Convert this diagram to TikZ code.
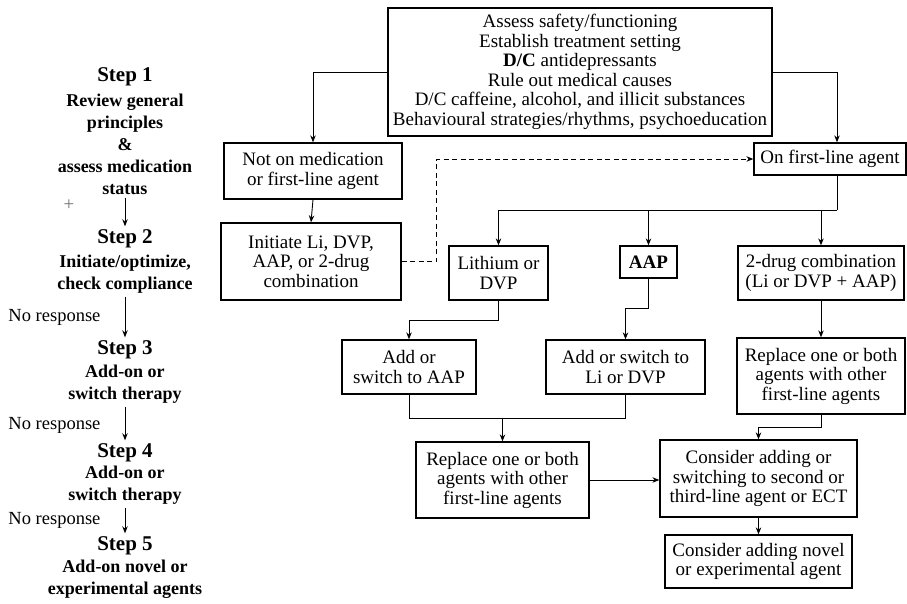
\documentclass[tikz,border=0pt]{standalone}
\usepackage{fontspec}
\setmainfont{Liberation Serif}
\usetikzlibrary{arrows.meta}
\usetikzlibrary{positioning}

\begin{document}
\begin{tikzpicture}[x=1pt,y=-1pt]
      \tikzset{
        >={Stealth[length=7pt,width=5.5pt]},
        box/.style={draw, line width=1.3pt, align=center, inner sep=2pt,
          font=\fontsize{19}{19.5}\selectfont},
        link/.style={->, line width=0.9pt},
        steptitle/.style={font=\bfseries\fontsize{21}{24}\selectfont},
        stepdesc/.style={align=center, font=\bfseries\fontsize{18}{22}\selectfont},
        noresp/.style={anchor=east, font=\fontsize{18.5}{20}\selectfont},
      }
      \useasboundingbox (0,0) rectangle (907,603);

      % step column
      \node[steptitle] (s1) at (125,77) {Step 1};
      \node[stepdesc] (d1) at (125,144) {Review general\\principles\\\&\\assess medication\\status};
      \node[steptitle] (s2) at (125,239) {Step 2};
      \node[stepdesc] (d2) at (125,274) {Initiate/optimize,\\check compliance};
      \node[steptitle] (s3) at (125,350) {Step 3};
      \node[stepdesc] (d3) at (125,384) {Add-on or\\switch therapy};
      \node[steptitle] (s4) at (125,453) {Step 4};
      \node[stepdesc] (d4) at (125,485.5) {Add-on or\\switch therapy};
      \node[steptitle] (s5) at (125,546) {Step 5};
      \node[stepdesc] (d5) at (125,579) {Add-on novel or\\experimental agents};

      \node[font=\fontsize{19}{19}\selectfont, text=black!55] (plus) at (69,205) {+};
      \node[noresp] (nr2) at (104,317) {No response};
      \node[noresp] (nr3) at (104,425) {No response};
      \node[noresp] (nr4) at (104,520) {No response};

      \draw[link] (d1.south) -- (s2.north);
      \draw[link] (d2.south) -- (s3.north);
      \draw[link] (d3.south) -- (s4.north);
      \draw[link] (d4.south) -- (s5.north);

      % flowchart boxes
      \node[box, minimum width=384pt, minimum height=128pt] (top) at (580,72)
        {Assess safety/functioning\\Establish treatment setting\\\textbf{D/C} antidepressants\\Rule out medical causes\\D/C caffeine, alcohol, and illicit substances\\Behavioural strategies/rhythms, psychoeducation};
      \node[box, minimum width=178pt, minimum height=56pt] (notmed) at (313,171)
        {Not on medication\\or first-line agent};
      \node[box, minimum width=180pt, minimum height=77pt] (init) at (311,261.5)
        {Initiate Li, DVP,\\AAP, or 2-drug\\combination};
      \node[box, minimum width=152pt, minimum height=32pt] (onfirst) at (830,159)
        {On first-line agent};
      \node[box, minimum width=99pt, minimum height=54pt] (lith) at (498.5,273)
        {Lithium or\\DVP};
      \node[box, minimum width=57pt, minimum height=32pt] (aap) at (648.5,262)
        {\textbf{AAP}};
      \node[box, minimum width=166pt, minimum height=54pt] (twodrug) at (821,273)
        {2-drug combination\\(Li or DVP + AAP)};
      \node[box, minimum width=134pt, minimum height=54pt] (addaap) at (409,367)
        {Add or\\switch to AAP};
      \node[box, minimum width=159pt, minimum height=54pt] (addli) at (625.5,367)
        {Add or switch to\\Li or DVP};
      \node[box, minimum width=173pt, minimum height=76pt] (repl) at (502.5,480)
        {Replace one or both\\agents with other\\first-line agents};
      \node[box, minimum width=168pt, minimum height=76pt] (repr) at (821,376)
        {Replace one or both\\agents with other\\first-line agents};
      \node[box, minimum width=197pt, minimum height=77pt] (consider) at (758.5,478.5)
        {Consider adding or\\switching to second or\\third-line agent or ECT};
      \node[box, minimum width=187pt, minimum height=53pt] (novel) at (758.5,561.5)
        {Consider adding novel\\or experimental agent};

      \coordinate (fork) at (837,210);
      \coordinate (merge) at (502.5,418);

      \draw[link] (top.west) -| (notmed.north);
      \draw[link] (top.east) -| ([xshift=7pt]onfirst.north);
      \draw[link] (notmed.south) -- (init.north);
      \draw[link, dashed, dash pattern=on 5pt off 3.5pt] (init.east) -- ++(35,0) |- (onfirst.west);
      \draw[line width=0.9pt] ([xshift=7pt]onfirst.south) -- (fork);
      \draw[link] (fork) -| (lith.north);
      \draw[link] (aap.north |- fork) -- (aap.north);
      \draw[link] (twodrug.north |- fork) -- (twodrug.north);
      \draw[link] (lith.south) -- ++(0,20) -| (addaap.north);
      \draw[link] (aap.south) -- ++(0,30) -| (addli.north);
      \draw[line width=0.9pt] (addaap.south) |- (merge);
      \draw[line width=0.9pt] (addli.south) |- (merge);
      \draw[link] (merge) -- (repl.north);
      \draw[link] (twodrug.south) -- (repr.north);
      \draw[link] (repr.south) -- ++(0,13) -| (consider.north);
      \draw[link] (repl.east) -- (repl.east -| consider.west);
      \draw[link] (consider.south) -- (novel.north);
    \end{tikzpicture}
\end{document}
